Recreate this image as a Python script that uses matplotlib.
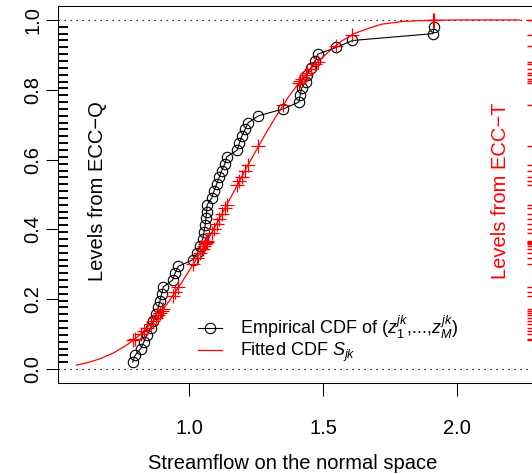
import matplotlib
matplotlib.use("Agg")
import matplotlib.pyplot as plt
from matplotlib.lines import Line2D

plt.rcParams["font.family"] = ["Liberation Sans", "DejaVu Sans"]
plt.rcParams["mathtext.fontset"] = "custom"
plt.rcParams["mathtext.rm"] = "Liberation Sans"
plt.rcParams["mathtext.it"] = "Liberation Sans:italic"

# sorted sample on the normal space
z_sorted = [0.790, 0.799, 0.820, 0.832, 0.842, 0.857, 0.867, 0.877, 0.885, 0.892,
            0.898, 0.904, 0.939, 0.948, 0.960, 1.016, 1.031, 1.041, 1.051, 1.056,
            1.060, 1.063, 1.066, 1.068, 1.085, 1.093, 1.103, 1.113, 1.122, 1.134,
            1.141, 1.180, 1.188, 1.197, 1.209, 1.221, 1.259, 1.352, 1.410, 1.415,
            1.420, 1.435, 1.440, 1.455, 1.470, 1.480, 1.550, 1.610, 1.910, 1.915]
# empirical levels k/(M+1)
emp_levels = [k / 51 for k in range(1, 51)]
# fitted CDF at the sample points (red +)
fit_levels = [0.082, 0.087, 0.100, 0.110, 0.118, 0.130, 0.138, 0.147, 0.154, 0.161,
              0.167, 0.173, 0.210, 0.220, 0.234, 0.300, 0.319, 0.332, 0.345, 0.352,
              0.357, 0.361, 0.365, 0.367, 0.391, 0.402, 0.416, 0.430, 0.443, 0.460,
              0.470, 0.526, 0.538, 0.551, 0.568, 0.585, 0.638, 0.757, 0.820, 0.825,
              0.830, 0.843, 0.847, 0.860, 0.873, 0.880, 0.925, 0.958, 0.999, 0.999]
# fitted CDF curve
curve_x = [0.58, 0.62, 0.67, 0.72, 0.77, 0.82, 0.87, 0.92, 0.97, 1.02, 1.07, 1.12,
           1.17, 1.22, 1.27, 1.32, 1.37, 1.42, 1.47, 1.52, 1.57, 1.62, 1.67, 1.72,
           1.80, 1.90, 2.00, 2.10, 2.235]
curve_y = [0.011, 0.018, 0.030, 0.047, 0.070, 0.100, 0.140, 0.188, 0.245, 0.305,
           0.370, 0.440, 0.512, 0.584, 0.653, 0.718, 0.778, 0.830, 0.873, 0.908,
           0.940, 0.962, 0.976, 0.988, 0.996, 0.999, 1.0, 1.0, 1.0]

fig = plt.figure(figsize=(5.32, 4.74), dpi=100)
ax = fig.add_axes([58 / 532, 1 - 383 / 474, (537 - 58) / 532, (383 - 6) / 474])

ax.axhline(0, color="black", lw=0.8, ls=(0, (1.2, 4.2)))
ax.axhline(1, color="black", lw=0.8, ls=(0, (1.2, 4.2)))

ax.plot(z_sorted, emp_levels, "-o", color="black", lw=0.8, ms=7.5,
        mfc="none", mec="black", mew=0.8)
ax.plot(curve_x, curve_y, "-", color="red", lw=0.9)
ax.plot(z_sorted, fit_levels, "+", color="red", ms=10, mew=0.9)

# rugs of levels
ax.hlines(emp_levels, 0, 0.021, transform=ax.get_yaxis_transform(),
          color="black", lw=1.4)
ax.hlines(fit_levels, 0.979, 1.0, transform=ax.get_yaxis_transform(),
          color="red", lw=1.0)

ax.text(0.659, 0.51, "Levels from ECC\u2212Q", rotation=90, fontsize=14.5,
        ha="center", va="center", color="black")
ax.text(2.162, 0.51, "Levels from ECC\u2212T", rotation=90, fontsize=14.5,
        ha="center", va="center", color="red")

ax.set_xlim(0.511, 2.299)
ax.set_ylim(-0.040, 1.040)
ax.set_xticks([1.0, 1.5, 2.0])
ax.set_xticklabels(["1.0", "1.5", "2.0"])
ax.set_yticks([0.0, 0.2, 0.4, 0.6, 0.8, 1.0])
ax.set_yticklabels(["0.0", "0.2", "0.4", "0.6", "0.8", "1.0"])
ax.tick_params(axis="x", length=9.4, width=0.75, pad=16.5, labelsize=14.5)
ax.tick_params(axis="y", length=8.5, width=0.75, pad=2.5, labelsize=14.5,
               labelrotation=90)
for lab in ax.get_yticklabels():
    lab.set_va("center")
for s in ax.spines.values():
    s.set_linewidth(0.75)

ax.set_xlabel("Streamflow on the normal space", fontsize=14.5)
ax.xaxis.set_label_coords(0.49, -0.188)

handles = [Line2D([], [], color="black", lw=0.8, marker="o", ms=7.5,
                  mfc="none", mew=0.8),
           Line2D([], [], color="red", lw=0.9)]
labels = [r"Empirical CDF of $(z_1^{jk}$,...,$z_M^{jk})$", r"Fitted CDF $S_{jk}$"]
ax.legend(handles, labels, loc="upper left", bbox_to_anchor=(198 / 532, 1 - 314 / 474),
          bbox_transform=fig.transFigure, frameon=False, fontsize=13,
          handlelength=1.35, handletextpad=1.0, borderpad=0, borderaxespad=0,
          labelspacing=0.0)

fig.savefig("out.png", dpi=100)
